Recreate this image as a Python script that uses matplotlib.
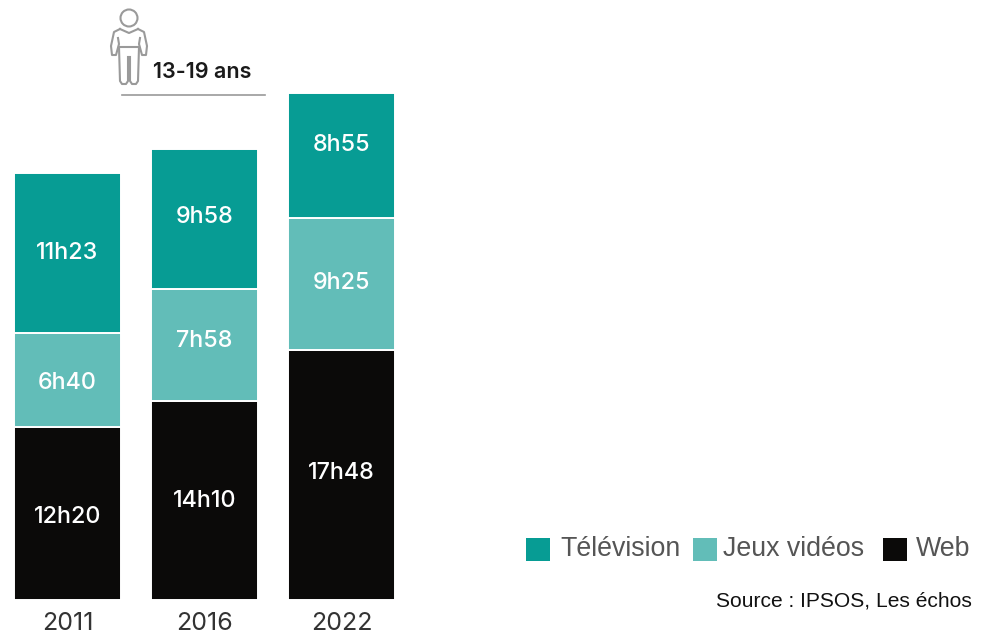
import matplotlib
matplotlib.use('Agg')
import matplotlib.pyplot as plt
from matplotlib.patches import Circle, Rectangle

plt.rcParams['font.family'] = ['Inter', 'DejaVu Sans']

years = ['2011', '2016', '2022']
web = [740, 850, 1068]  # minutes
jeux = [400, 478, 565]
tele = [683, 598, 535]
web_labels = ['12h20', '14h10', '17h48']
jeux_labels = ['6h40', '7h58', '9h25']
tele_labels = ['11h23', '9h58', '8h55']
legend_names = ['Télévision', 'Jeux vidéos', 'Web']

col_tele = '#079C94'
col_jeux = '#62BDB8'
col_web = '#0B0A09'

W, H = 987, 637
PX = 0.234  # pixels per minute
fig = plt.figure(figsize=(W / 100, H / 100), dpi=100)

# bars, baseline at y=600px
ax = fig.add_axes([0, 37 / H, 1, 600 / H])
ax.set_xlim(-67.5 / 137, (W - 67.5) / 137)
ax.set_ylim(0, 600 / PX)
ax.axis('off')

x = range(len(years))
bottom2 = [a + b for a, b in zip(web, jeux)]
# labels are not quite centred in the original, nudges in pixels (up is +)
for vals, bot, col, labs, nudge in [(web, [0, 0, 0], col_web, web_labels, [-4, 0, 2]),
                                    (jeux, web, col_jeux, jeux_labels, [-3, 4, 1]),
                                    (tele, bottom2, col_tele, tele_labels, [0, 2, 10])]:
    ax.bar(x, vals, bottom=bot, width=107 / 137, color=col, edgecolor='white', linewidth=1.4)
    for i in x:
        ax.text(i, bot[i] + vals[i] / 2 + nudge[i] / PX, labs[i], color='white', fontsize=16.8,
                fontweight='medium', ha='center', va='center')

# year labels
for i in x:
    ax.text(i, -23 / PX, years[i], color='#333333', fontsize=18, fontweight='normal',
            ha='center', va='center', clip_on=False)

# overlay in pixels for icon and legend
ov = fig.add_axes([0, 0, 1, 1])
ov.set_xlim(0, W)
ov.set_ylim(H, 0)
ov.axis('off')
ov.patch.set_alpha(0)

grey = '#9A9A9A'
lw = 1.5
ov.add_patch(Circle((129, 18), 8.5, fill=False, ec=grey, lw=lw))
# shoulders, arms and waist
ov.plot([120, 129, 138], [29, 33, 29], color=grey, lw=lw)
ov.plot([120, 114, 111, 112, 116, 119, 118], [29, 32, 46, 55, 55, 44, 38], color=grey, lw=lw)
ov.plot([138, 144, 147, 146, 142, 139, 140], [29, 32, 46, 55, 55, 44, 38], color=grey, lw=lw)
ov.plot([119, 139], [47, 47], color=grey, lw=lw)
# legs
ov.plot([119, 120, 122, 126, 128, 128], [47, 81, 84, 84, 81, 57], color=grey, lw=lw)
ov.plot([139, 138, 136, 132, 130, 130], [47, 81, 84, 84, 81, 57], color=grey, lw=lw)

ov.text(153, 72, '13-19 ans', color='#1A1A1A', fontsize=15.5, fontweight='semibold', ha='left', va='center')
ov.plot([122, 265], [95, 95], color='#9A9A9A', lw=1.2)

# legend
for sx, col, name, tx in [(526, col_tele, legend_names[0], 560),
                          (693, col_jeux, legend_names[1], 723),
                          (883, col_web, legend_names[2], 916)]:
    ov.add_patch(Rectangle((sx, 538), 24, 23, fc=col, ec='none'))
    ov.text(tx, 549, name, color='#555555', fontsize=19.3, family='Liberation Sans', ha='left', va='center')

ov.text(972, 601, 'Source : IPSOS, Les échos', color='#111111', fontsize=15.1,
        family='Liberation Sans', ha='right', va='center')

fig.savefig('out.png', dpi=100)
